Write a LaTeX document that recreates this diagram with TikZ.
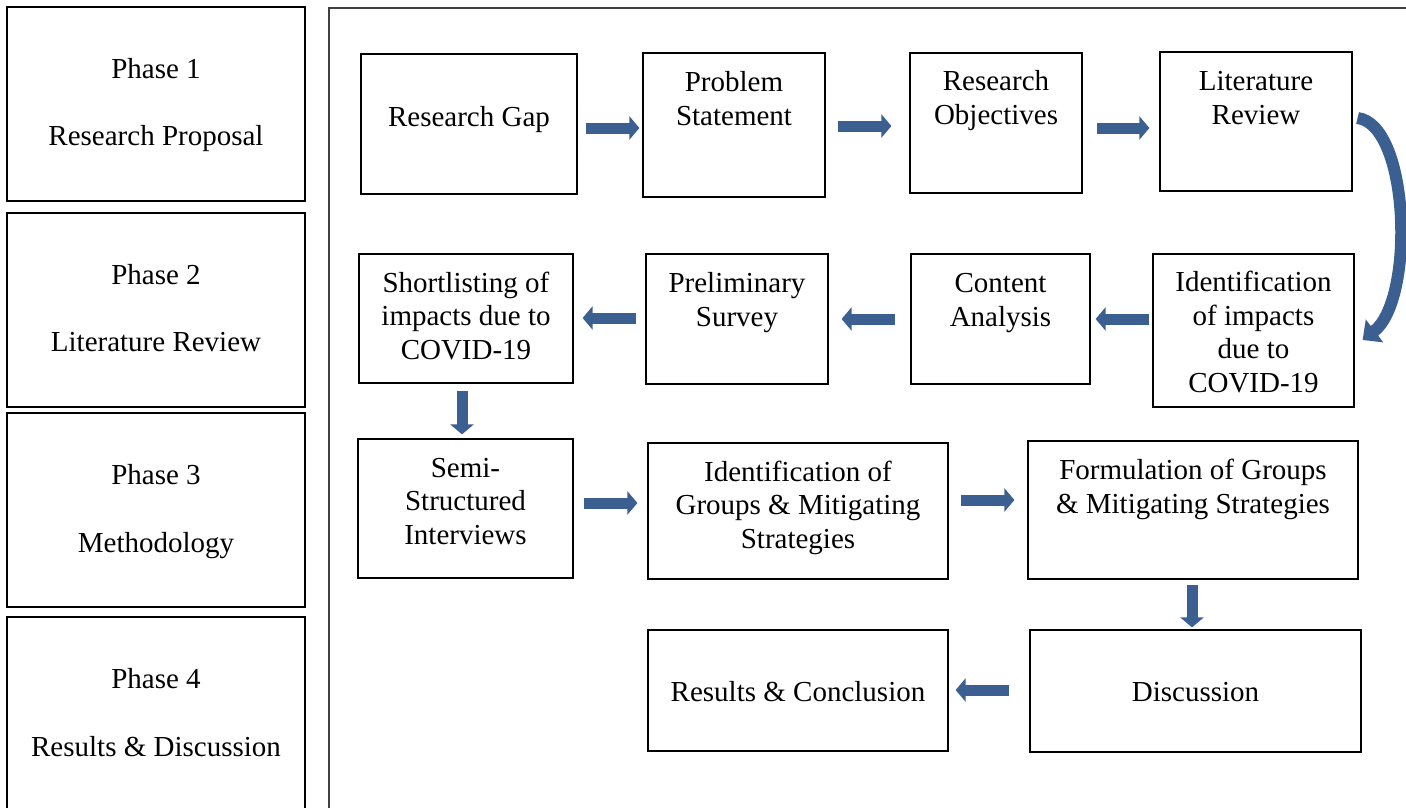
\documentclass[tikz,border=0pt]{standalone}
\usepackage{fontspec}
\setmainfont{Liberation Serif}
\usetikzlibrary{arrows.meta,calc}
\definecolor{arrowblue}{RGB}{60,95,145}
\tikzset{
  box/.style={draw=black, line width=1.2pt, rectangle, inner sep=0pt},
  lbl/.style={font=\fontsize{29}{33.5}\selectfont, align=center, inner sep=0pt, anchor=base},
  barrow/.style={draw=arrowblue, line width=11pt, -{Triangle[length=10pt,width=23pt]}},
  carrow/.style={draw=arrowblue, line width=12pt, -{Triangle[length=15pt,width=28pt]}},
}
\begin{document}
\begin{tikzpicture}[x=1pt,y=-1pt]
\useasboundingbox (0,0) rectangle (1406,808);
% outer frame (clipped by page)
\draw[line width=1.2pt, draw=black!75] (329,830) -- (329,8) -- (1430,8);
% phase boxes
\node[box, minimum width=298, minimum height=194] (p1) at (156,104) {};
\node[box, minimum width=298, minimum height=194] (p2) at (156,310) {};
\node[box, minimum width=298, minimum height=194] (p3) at (156,510) {};
\node[box, minimum width=298, minimum height=213] (p4) at (156,723.5) {};
\node[lbl] at (156,78) {Phase 1};
\node[lbl] at (156,145) {Research Proposal};
\node[lbl] at (156,284) {Phase 2};
\node[lbl] at (156,351) {Literature Review};
\node[lbl] at (156,484) {Phase 3};
\node[lbl] at (156,552) {Methodology};
\node[lbl] at (156,688) {Phase 4};
\node[lbl] at (156,756) {Results \& Discussion};
% row 1
\node[box, minimum width=216, minimum height=140] (rg) at (469,124) {};
\node[box, minimum width=182, minimum height=144] (ps) at (734,125) {};
\node[box, minimum width=172, minimum height=140] (ro) at (996,123) {};
\node[box, minimum width=192, minimum height=139] (lr) at (1256,121.5) {};
\node[lbl] at (469,126) {Research Gap};
\node[lbl] at (734,125) {Problem\\Statement};
\node[lbl] at (996,124) {Research\\Objectives};
\node[lbl] at (1256,124) {Literature\\Review};
% row 2
\node[box, minimum width=214, minimum height=129] (sl) at (466,318.5) {};
\node[box, minimum width=182, minimum height=130] (psv) at (737,319) {};
\node[box, minimum width=179, minimum height=130] (ca) at (1000.5,319) {};
\node[box, minimum width=201, minimum height=153] (il) at (1253.5,330.5) {};
\node[lbl] at (466,359) {Shortlisting of\\impacts due to\\COVID-19};
\node[lbl] at (737,326) {Preliminary\\Survey};
\node[lbl] at (1000.5,326) {Content\\Analysis};
\node[lbl] at (1253.5,392) {Identification\\of impacts\\due to\\COVID-19};
% row 3
\node[box, minimum width=215, minimum height=139] (si) at (465.5,508.5) {};
\node[box, minimum width=300, minimum height=136] (ig) at (798,511) {};
\node[box, minimum width=330, minimum height=138] (fg) at (1193,510) {};
\node[lbl] at (465.5,544) {Semi-\\Structured\\Interviews};
\node[lbl] at (798,548) {Identification of\\Groups \& Mitigating\\Strategies};
\node[lbl] at (1193,513) {Formulation of Groups\\\& Mitigating Strategies};
% row 4
\node[box, minimum width=300, minimum height=121] (rc) at (798,690.5) {};
\node[box, minimum width=331, minimum height=122] (di) at (1195.5,691) {};
\node[lbl] at (798,701) {Results \& Conclusion};
\node[lbl] at (1195.5,701) {Discussion};
% connectors
\draw[barrow] ($(rg.east)+(8,4)$) -- ($(ps.west|-rg.east)+(-3,4)$);
\draw[barrow] ($(ps.east)+(12,1)$) -- ($(ro.west|-ps.east)+(-18,1)$);
\draw[barrow] ($(ro.east)+(14,5)$) -- ($(lr.west|-ro.east)+(-10,5)$);
\draw[carrow] ($(lr.east)+(5,-3.5)$) .. controls (1410,125) and (1415,300) .. ($(il.east)+(8,9.5)$);
\draw[barrow] ($(il.west|-ca.east)+(-3,0)$) -- ($(ca.east)+(5,0)$);
\draw[barrow] ($(ca.west)+(-15,0)$) -- ($(psv.east)+(13,0)$);
\draw[barrow] ($(psv.west)+(-9,-1)$) -- ($(sl.east|-psv.west)+(9,-1)$);
\draw[barrow] ($(sl.south)+(-4,7)$) -- ($(sl.south|-si.north)+(-4,-4)$);
\draw[barrow] ($(si.east)+(10,-5.5)$) -- ($(ig.west|-si.east)+(-10,-5.5)$);
\draw[barrow] ($(ig.east)+(12,-11)$) -- ($(fg.west|-ig.east)+(-13,-11)$);
\draw[barrow] ($(fg.south)+(-1,5)$) -- ($(fg.south|-di.north)+(-1,-2)$);
\draw[barrow] ($(di.west)+(-20,-1)$) -- ($(rc.east|-di.west)+(7,-1)$);
\end{tikzpicture}
\end{document}
